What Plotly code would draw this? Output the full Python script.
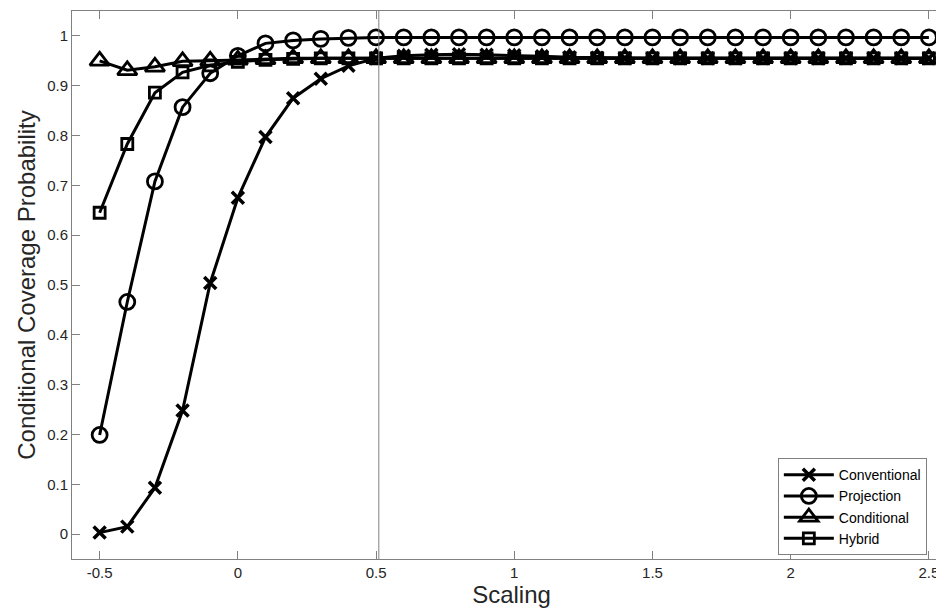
import plotly.graph_objects as go

scaling = [round(-0.5 + 0.1 * i, 1) for i in range(31)]

conventional = [0.003, 0.015, 0.093, 0.248, 0.504, 0.675, 0.797, 0.875, 0.914, 0.940, 0.955,
                0.960, 0.962, 0.963, 0.962, 0.961, 0.959, 0.957, 0.956, 0.955, 0.955,
                0.955, 0.955, 0.955, 0.955, 0.955, 0.955, 0.955, 0.955, 0.955, 0.955]
projection = [0.199, 0.466, 0.708, 0.857, 0.925, 0.960, 0.985, 0.991, 0.994, 0.996, 0.997,
              0.997, 0.997, 0.997, 0.997, 0.997, 0.997, 0.997, 0.997, 0.997, 0.997,
              0.997, 0.997, 0.997, 0.997, 0.997, 0.997, 0.997, 0.997, 0.997, 0.997]
conditional = [0.950, 0.931, 0.938, 0.949, 0.950, 0.952, 0.953, 0.955, 0.955, 0.955, 0.955,
               0.955, 0.955, 0.955, 0.955, 0.955, 0.955, 0.955, 0.955, 0.955, 0.955,
               0.955, 0.955, 0.955, 0.955, 0.955, 0.955, 0.955, 0.955, 0.955, 0.955]
hybrid = [0.645, 0.783, 0.886, 0.927, 0.941, 0.948, 0.952, 0.954, 0.955, 0.955, 0.955,
          0.955, 0.955, 0.955, 0.955, 0.955, 0.955, 0.955, 0.955, 0.955, 0.955,
          0.955, 0.955, 0.955, 0.955, 0.955, 0.955, 0.955, 0.955, 0.955, 0.955]

x_ticks = [-0.5, 0, 0.5, 1, 1.5, 2, 2.5]
x_tick_labels = ["-0.5", "0", "0.5", "1", "1.5", "2", "2.5"]
y_ticks = [0, 0.1, 0.2, 0.3, 0.4, 0.5, 0.6, 0.7, 0.8, 0.9, 1]
y_tick_labels = ["0", "0.1", "0.2", "0.3", "0.4", "0.5", "0.6", "0.7", "0.8", "0.9", "1"]
ref_line_x = 0.51

series = [
    ("Conventional", conventional, dict(symbol="x-thin", size=12, color="black",
                                        line=dict(width=3.5, color="black"))),
    ("Projection", projection, dict(symbol="circle-open", size=15, color="black",
                                    line=dict(width=2.8, color="black"))),
    ("Conditional", conditional, dict(symbol="triangle-up-open", size=17, color="black",
                                      line=dict(width=2.8, color="black"))),
    ("Hybrid", hybrid, dict(symbol="square-open", size=11, color="black",
                            line=dict(width=2.8, color="black"))),
]

fig = go.Figure()
for name, vals, mk in series:
    fig.add_trace(go.Scatter(x=scaling, y=vals, name=name, mode="lines+markers",
                             line=dict(color="black", width=3), marker=mk))

fig.add_shape(type="line", x0=ref_line_x, x1=ref_line_x, xref="x", y0=0, y1=1, yref="paper",
              line=dict(color="#808080", width=1))

axis_common = dict(showgrid=False, zeroline=False, showline=True, linecolor="#808080",
                   linewidth=1, mirror="allticks", ticks="inside", ticklen=8,
                   tickcolor="#808080", automargin=False,
                   tickfont=dict(family="Liberation Sans, Arial", size=15, color="#262626"))

fig.update_layout(
    width=944, height=609,
    margin=dict(l=64, r=1, t=3, b=58),
    paper_bgcolor="white", plot_bgcolor="white",
    font=dict(family="Liberation Sans, Arial", color="#262626"),
    xaxis=dict(range=[-0.6, 2.58], tickvals=x_ticks, ticktext=x_tick_labels,
               title=dict(text="Scaling", font=dict(size=24, color="#262626"), standoff=4),
               **axis_common),
    yaxis=dict(range=[-0.05, 1.05], tickvals=y_ticks, ticktext=y_tick_labels,
               title=dict(text="Conditional Coverage Probability",
                          font=dict(size=24, color="#262626"), standoff=4),
               **axis_common),
    legend=dict(x=0.803, y=0.184, xanchor="left", yanchor="top",
                bordercolor="#808080", borderwidth=1, bgcolor="white",
                font=dict(size=14, color="black"), tracegroupgap=0, itemwidth=50),
    showlegend=True,
)

fig.write_html("out.html")
